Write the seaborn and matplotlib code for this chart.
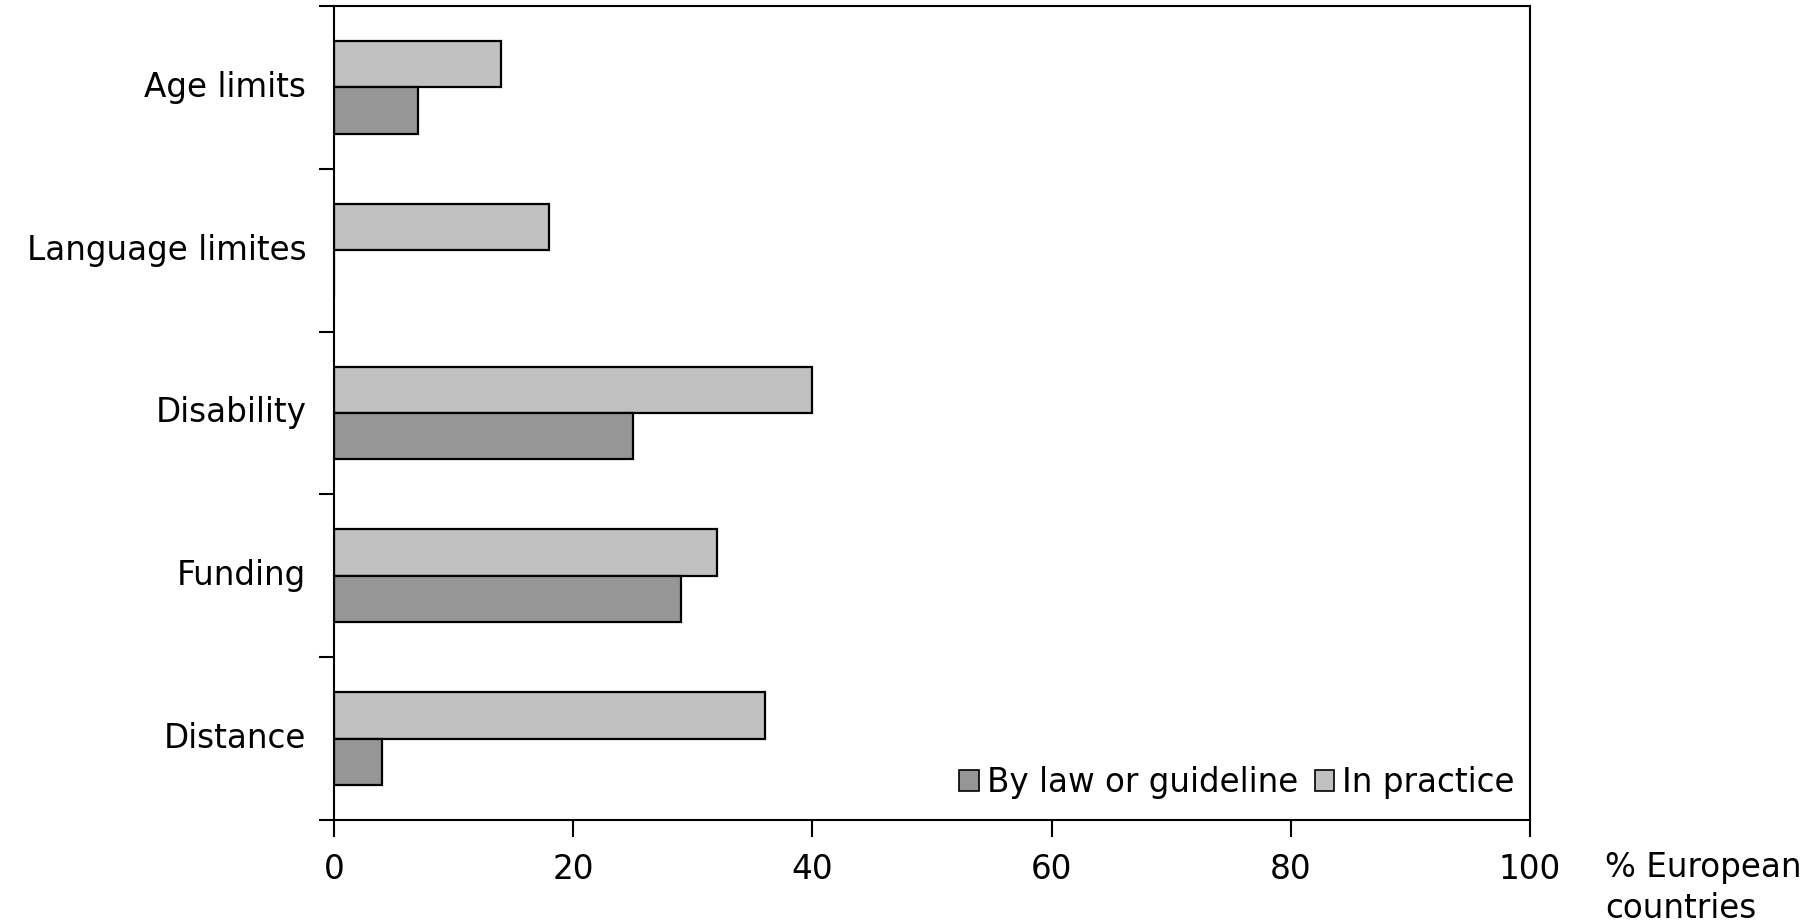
import matplotlib
matplotlib.use("Agg")
import matplotlib.pyplot as plt
from matplotlib.patches import Patch
from matplotlib.ticker import FixedLocator
from matplotlib.transforms import ScaledTranslation
import pandas as pd
import seaborn as sns

categories = ["Age limits", "Language limites", "Disability", "Funding", "Distance"]
in_practice = [14, 18, 40, 32, 36]
by_law = [7, 0, 25, 29, 4]
series_names = ["In practice", "By law or guideline"]
x_ticks = [0, 20, 40, 60, 80, 100]
x_label = "% European\ncountries"

colors = {"In practice": "#c0c0c0", "By law or guideline": "#969696"}

df = pd.DataFrame({
    "category": categories * 2,
    "series": [series_names[0]] * len(categories) + [series_names[1]] * len(categories),
    "value": in_practice + by_law,
})

sns.set_theme(style="white")
plt.rcParams["font.family"] = ["DejaVu Sans"]
plt.rcParams["text.color"] = "black"
plt.rcParams["xtick.color"] = "black"
plt.rcParams["ytick.color"] = "black"

FS = 23.5

fig = plt.figure(figsize=(18.18, 9.24), dpi=100)
ax = fig.add_axes([0.1837, 0.1126, 0.8416 - 0.1837, 0.9935 - 0.1126])

sns.barplot(data=df, x="value", y="category", hue="series", order=categories,
            hue_order=series_names, palette=colors, orient="h", width=0.57,
            edgecolor="black", linewidth=1.6, ax=ax, legend=False)

ax.set_xlim(0, 100)
ax.set_ylim(len(categories) - 0.5, -0.5)
ax.set_xticks(x_ticks)
ax.set_xticklabels([str(t) for t in x_ticks], fontsize=FS)
ax.set_yticks(range(len(categories)))
ax.set_yticklabels(categories, fontsize=FS)
ax.yaxis.set_minor_locator(FixedLocator([i - 0.5 for i in range(len(categories) + 1)]))
ax.tick_params(axis="y", which="major", length=0, pad=20)
ax.tick_params(axis="y", which="minor", length=11, width=1.5, color="black", direction="out", left=True)
ax.tick_params(axis="x", which="major", length=12, width=1.5, color="black", direction="out", bottom=True, pad=12)
ax.set_xlabel("")
ax.set_ylabel("")

# nudge category labels slightly upward
lift = ScaledTranslation(0, 0.035, fig.dpi_scale_trans)
for lbl in ax.get_yticklabels():
    lbl.set_transform(lbl.get_transform() + lift)

for side in ["left", "right", "top", "bottom"]:
    ax.spines[side].set_visible(True)
    ax.spines[side].set_color("black")
    ax.spines[side].set_linewidth(1.5)

# axis caption to the right of the tick-label row
fig.text(0.8829, 0.0791, x_label, fontsize=FS, ha="left", va="top", linespacing=1.3)

handles = [Patch(facecolor=colors[s], edgecolor="black", linewidth=1.2, label=s)
           for s in ["By law or guideline", "In practice"]]
ax.legend(handles=handles, loc="lower right", bbox_to_anchor=(1.005, 0.0), ncol=2,
          frameon=False, fontsize=FS, handlelength=0.6, handleheight=0.6,
          handletextpad=0.25, columnspacing=0.5, borderaxespad=0.25)

fig.savefig("out.png", dpi=100, facecolor="white")
